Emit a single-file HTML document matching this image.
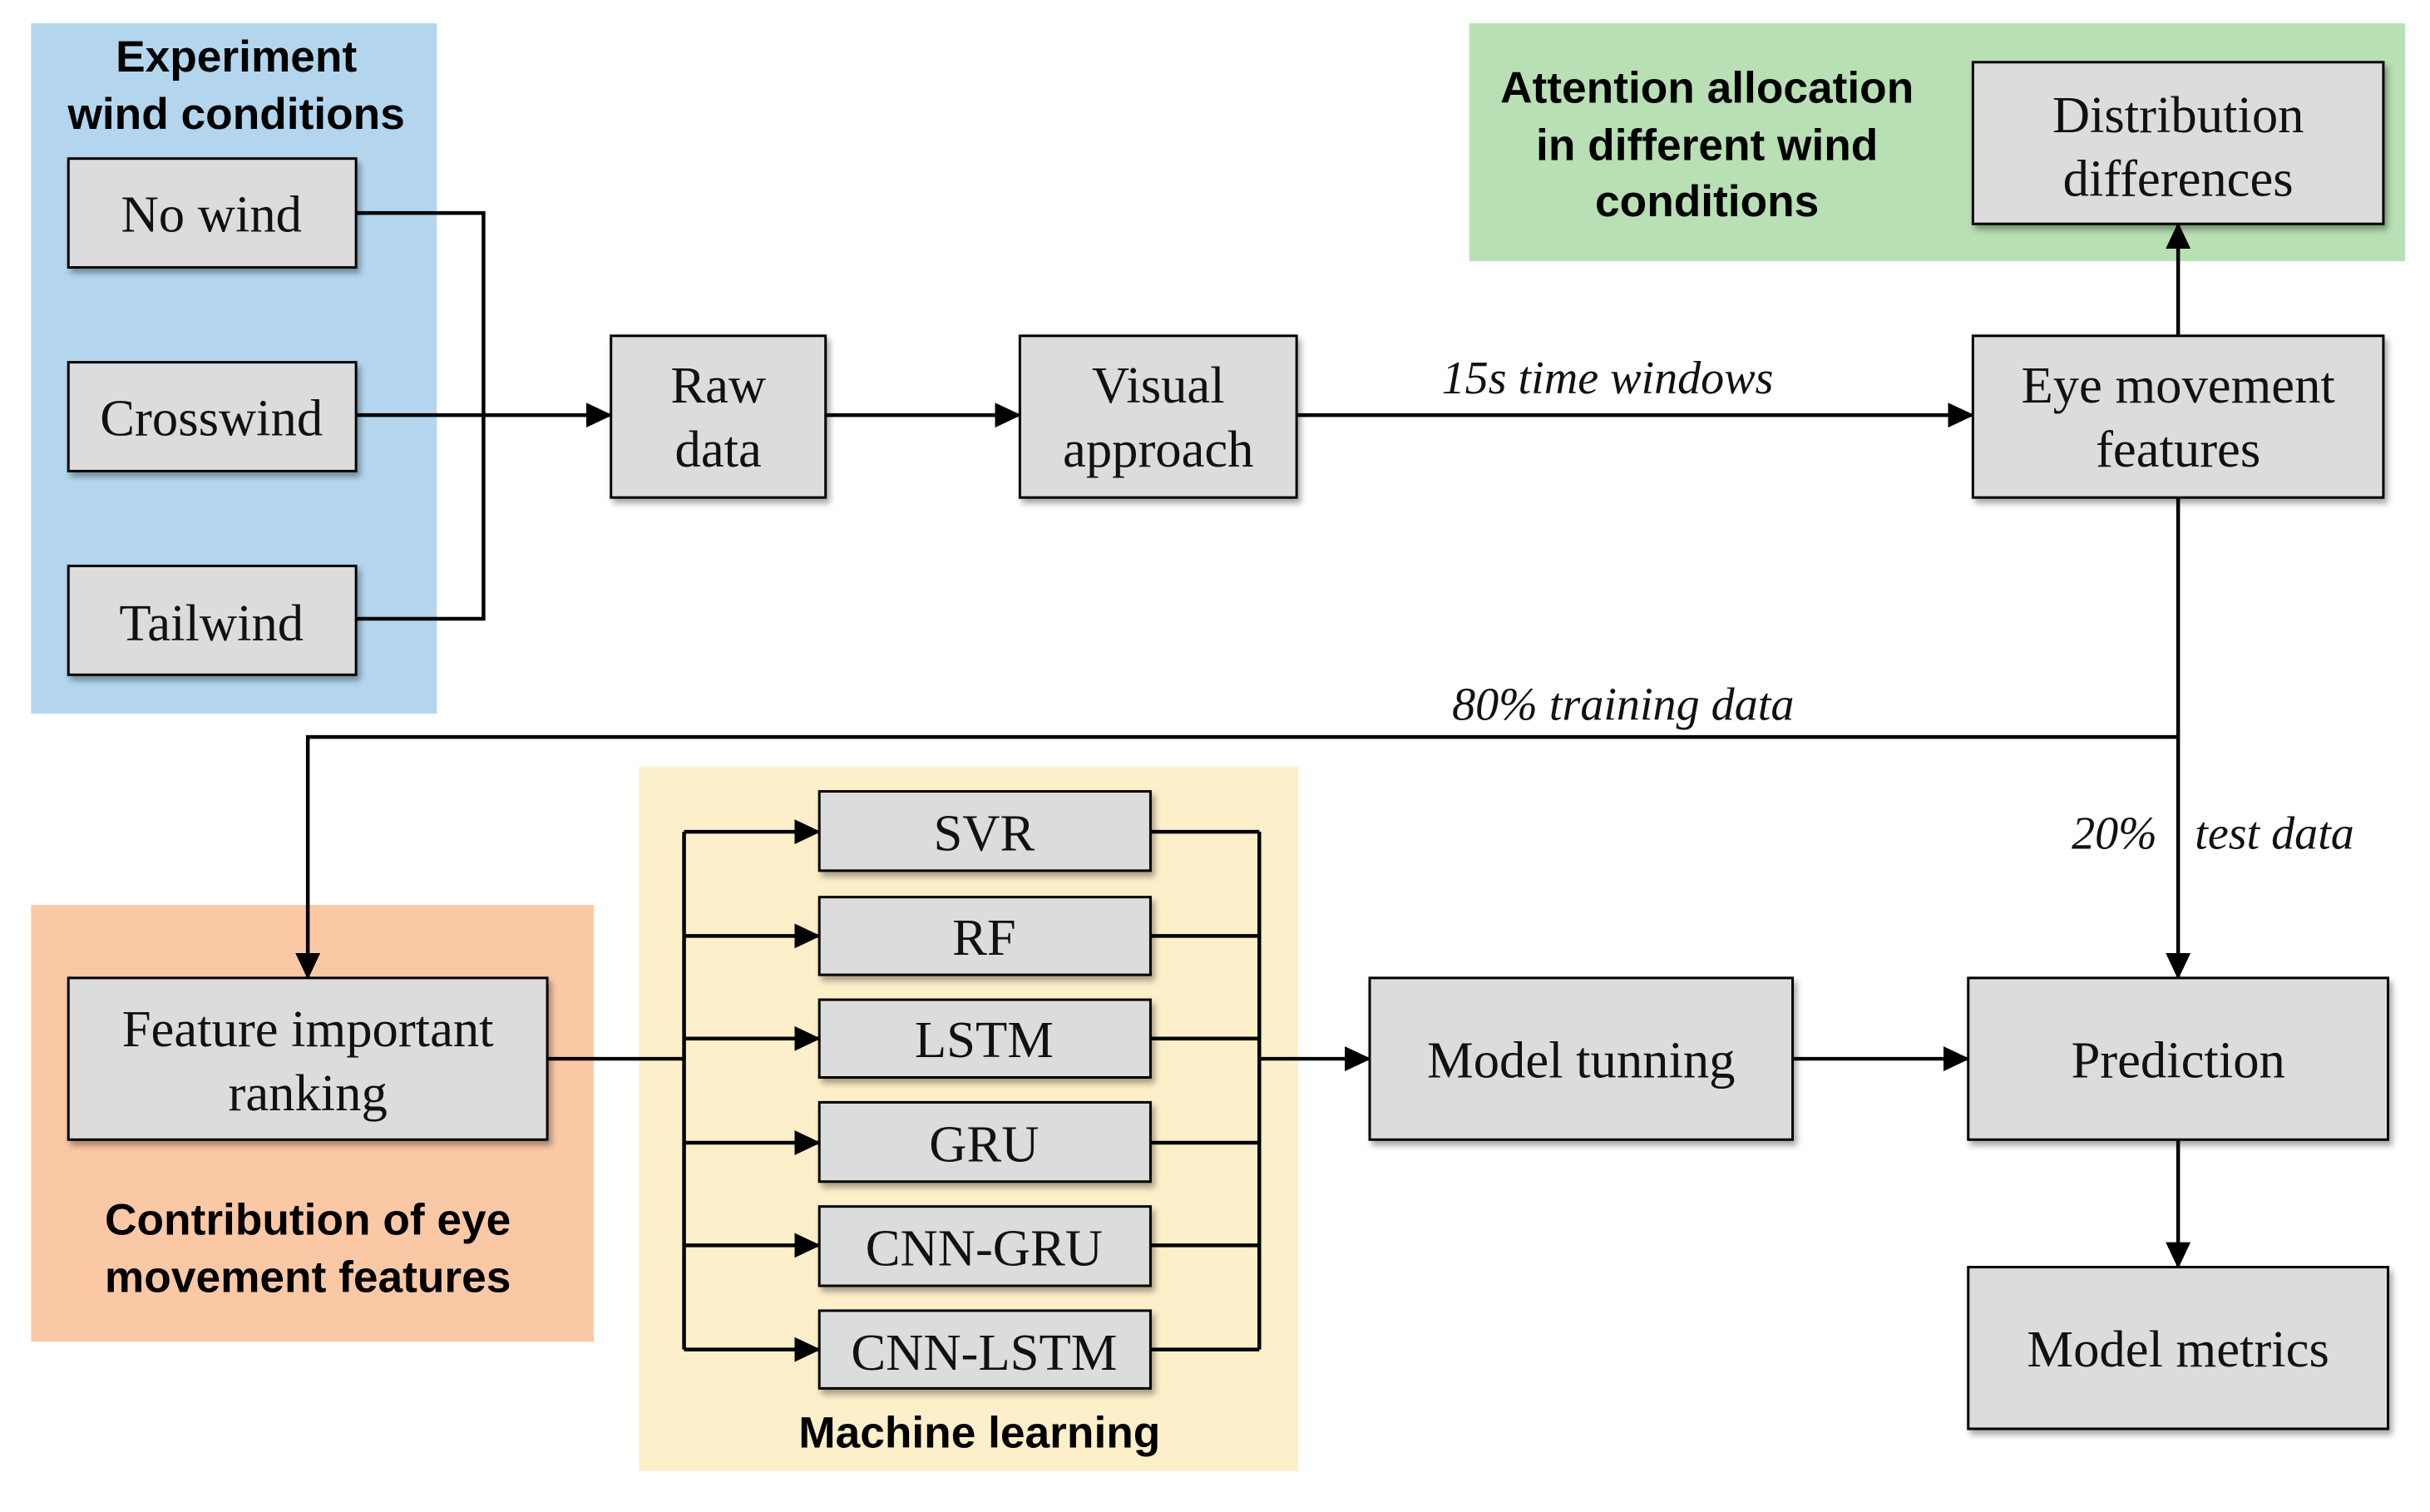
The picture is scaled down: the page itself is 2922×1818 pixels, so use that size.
<!DOCTYPE html>
<html><head><meta charset="utf-8"><style>
html,body{margin:0;padding:0;background:#fff;}
svg{display:block;}
.b{fill:#dcdcdc;stroke:#000;stroke-width:1.6;filter:url(#sh);}
.t{font-family:"Liberation Serif",serif;font-size:33.5px;fill:#111;text-anchor:middle;}
.s{font-family:"Liberation Sans",sans-serif;font-weight:bold;font-size:28.5px;fill:#000;text-anchor:middle;}
.i{font-family:"Liberation Serif",serif;font-style:italic;font-size:30px;fill:#111;text-anchor:middle;}
.l{stroke:#000;stroke-width:2.4;fill:none;}
</style></head><body>
<svg width="2922" height="1818" viewBox="0 0 1563 972.5" preserveAspectRatio="none" xmlns="http://www.w3.org/2000/svg">
<defs>
<filter id="sh" x="-10%" y="-10%" width="130%" height="140%"><feDropShadow dx="2" dy="3" stdDeviation="2" flood-color="#000" flood-opacity="0.35"/></filter>
<marker id="a" markerWidth="17" markerHeight="16" refX="16" refY="8" orient="auto" markerUnits="userSpaceOnUse" viewBox="0 0 17 16"><path d="M0,0 L17,8 L0,16 z" fill="#000"/></marker>
</defs>
<rect width="1563" height="972.5" fill="#fff"/>
<rect x="20" y="15" width="261" height="444" fill="#b3d6ee"/>
<rect x="945" y="15" width="602" height="153" fill="#b8e0b4"/>
<rect x="20" y="582" width="362" height="281" fill="#fbc8a6"/>
<rect x="411" y="493" width="424" height="453" fill="#fdefc9"/>
<text class="s" x="152" y="46">Experiment</text>
<text class="s" x="152" y="83">wind conditions</text>
<text class="s" x="1098" y="66">Attention allocation</text>
<text class="s" x="1098" y="103">in different wind</text>
<text class="s" x="1098" y="139">conditions</text>
<text class="s" x="198" y="794">Contribution of eye</text>
<text class="s" x="198" y="831">movement features</text>
<text class="s" x="630" y="931">Machine learning</text>
<path class="l" d="M229,137 H311 V398 H229"/>
<path class="l" d="M229,267 H393" marker-end="url(#a)"/>
<path class="l" d="M531,267 H656" marker-end="url(#a)"/>
<path class="l" d="M834,267 H1269" marker-end="url(#a)"/>
<text class="i" x="1034" y="253">15s time windows</text>
<path class="l" d="M1401,216 V144" marker-end="url(#a)"/>
<path class="l" d="M1401,320 V629" marker-end="url(#a)"/>
<path class="l" d="M1401,474 H198 V629" marker-end="url(#a)"/>
<text class="i" x="1044" y="463">80% training data</text>
<text class="i" x="1360" y="546">20%</text>
<text class="i" x="1463" y="546">test data</text>
<path class="l" d="M352,681 H440"/>
<path class="l" d="M440,535 V868 M810,535 V868"/>
<path class="l" d="M440,535 H527" marker-end="url(#a)"/>
<path class="l" d="M440,602 H527" marker-end="url(#a)"/>
<path class="l" d="M440,668 H527" marker-end="url(#a)"/>
<path class="l" d="M440,735 H527" marker-end="url(#a)"/>
<path class="l" d="M440,801 H527" marker-end="url(#a)"/>
<path class="l" d="M440,868 H527" marker-end="url(#a)"/>
<path class="l" d="M740,535 H810 M740,602 H810 M740,668 H810 M740,735 H810 M740,801 H810 M740,868 H810"/>
<path class="l" d="M810,681 H881" marker-end="url(#a)"/>
<path class="l" d="M1153,681 H1266" marker-end="url(#a)"/>
<path class="l" d="M1401,733 V815" marker-end="url(#a)"/>
<rect class="b" x="44" y="102" width="185" height="70"/><text class="t" x="136" y="149">No wind</text>
<rect class="b" x="44" y="233" width="185" height="70"/><text class="t" x="136" y="280">Crosswind</text>
<rect class="b" x="44" y="364" width="185" height="70"/><text class="t" x="136" y="412">Tailwind</text>
<rect class="b" x="393" y="216" width="138" height="104"/><text class="t" x="462" y="259">Raw</text><text class="t" x="462" y="300">data</text>
<rect class="b" x="656" y="216" width="178" height="104"/><text class="t" x="745" y="259">Visual</text><text class="t" x="745" y="300">approach</text>
<rect class="b" x="1269" y="40" width="264" height="104"/><text class="t" x="1401" y="85">Distribution</text><text class="t" x="1401" y="126">differences</text>
<rect class="b" x="1269" y="216" width="264" height="104"/><text class="t" x="1401" y="259">Eye movement</text><text class="t" x="1401" y="300">features</text>
<rect class="b" x="44" y="629" width="308" height="104"/><text class="t" x="198" y="673">Feature important</text><text class="t" x="198" y="714">ranking</text>
<rect class="b" x="527" y="509" width="213" height="51"/><text class="t" x="633" y="547">SVR</text>
<rect class="b" x="527" y="577" width="213" height="50"/><text class="t" x="633" y="614">RF</text>
<rect class="b" x="527" y="643" width="213" height="50"/><text class="t" x="633" y="680">LSTM</text>
<rect class="b" x="527" y="709" width="213" height="51"/><text class="t" x="633" y="747">GRU</text>
<rect class="b" x="527" y="776" width="213" height="51"/><text class="t" x="633" y="814">CNN-GRU</text>
<rect class="b" x="527" y="843" width="213" height="50"/><text class="t" x="633" y="881">CNN-LSTM</text>
<rect class="b" x="881" y="629" width="272" height="104"/><text class="t" x="1017" y="693">Model tunning</text>
<rect class="b" x="1266" y="629" width="270" height="104"/><text class="t" x="1401" y="693">Prediction</text>
<rect class="b" x="1266" y="815" width="270" height="104"/><text class="t" x="1401" y="879">Model metrics</text>
</svg>
</body></html>
